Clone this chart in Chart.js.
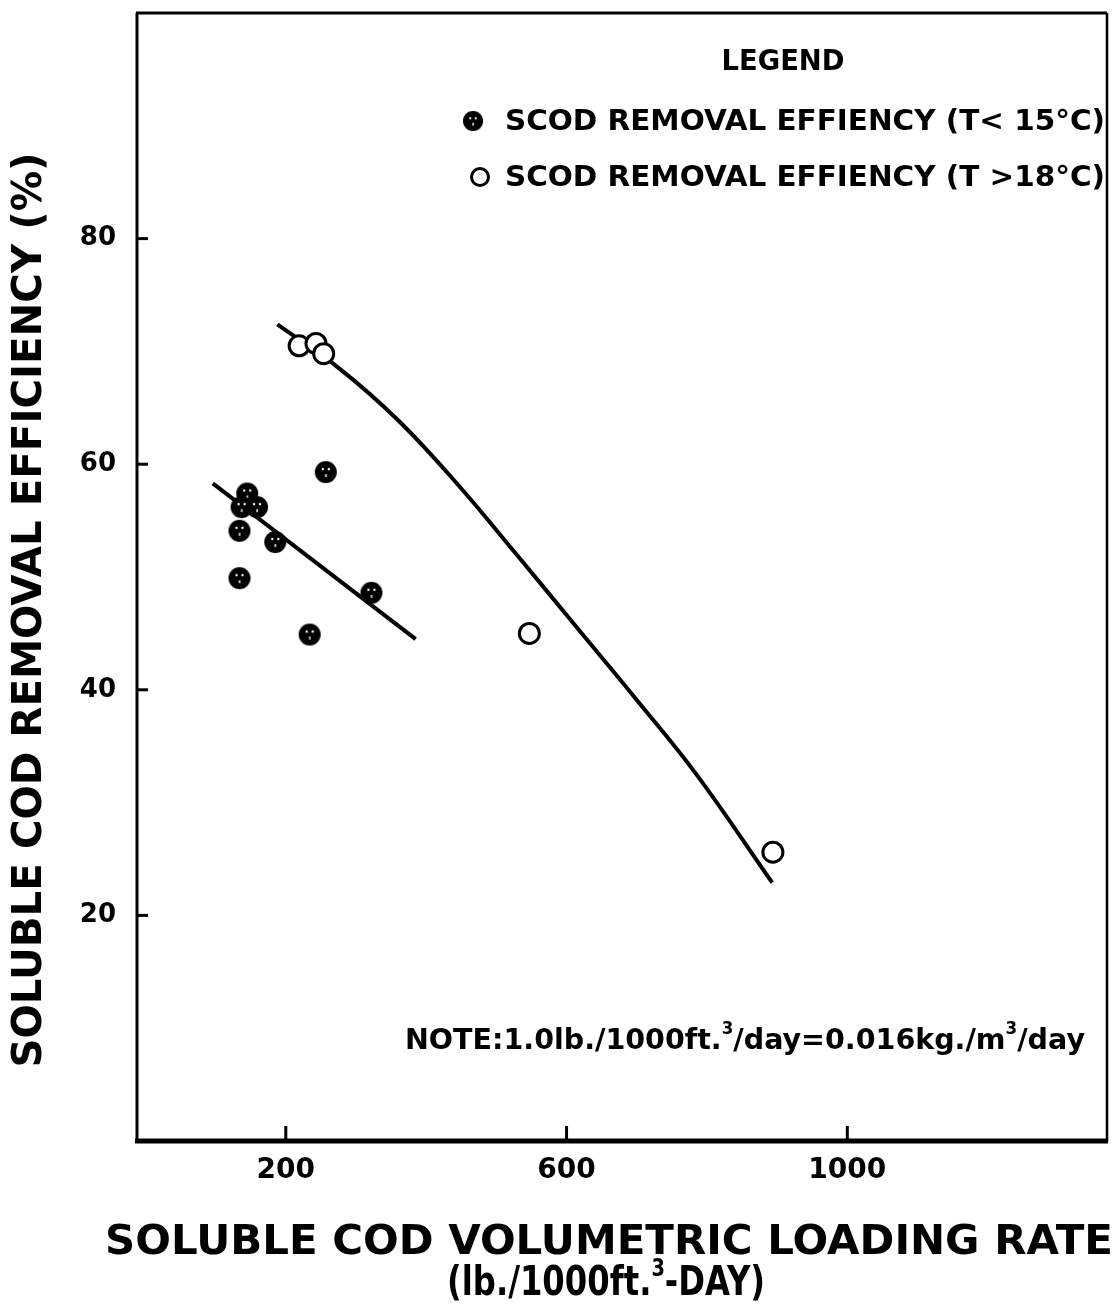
<!DOCTYPE html>
<html><head><meta charset="utf-8">
<script src="https://cdn.jsdelivr.net/npm/chart.js@4.4.1/dist/chart.umd.min.js"></script>
<style>html,body{margin:0;padding:0;background:#fff;}#wrap{width:1120px;height:1308px;}</style>
</head><body><div id="wrap"><canvas id="c" width="1120" height="1308"></canvas></div>
<script>
// ---- data ----
const coldX = [145, 137, 159, 134, 185, 134, 257, 322, 234];
const coldY = [57.4, 56.2, 56.2, 54.1, 53.1, 49.9, 59.3, 48.6, 44.9];
const warmX = [219, 243, 254, 547, 894];
const warmY = [70.5, 70.7, 69.8, 45.0, 25.6];
const coldFitX = [96, 385];
const coldFitY = [58.3, 44.5];
const warmFitX = [188, 276, 360, 445, 530, 615, 700, 785, 893];
const warmFitY = [72.4, 68.5, 63.9, 58.2, 51.9, 45.5, 39.1, 32.5, 22.9];
const xTicks = [200, 600, 1000];
const yTicks = [20, 40, 60, 80];
const legendTitle = 'LEGEND';
const legendCold = 'SCOD REMOVAL EFFIENCY (T< 15°C)';
const legendWarm = 'SCOD REMOVAL EFFIENCY (T >18°C)';
const yTitle = 'SOLUBLE COD REMOVAL EFFICIENCY (%)';
const xTitle1 = 'SOLUBLE COD VOLUMETRIC LOADING RATE';
const xTitle2 = [{t:'(lb./1000ft.'},{t:'3',sup:true},{t:'-DAY)'}];
const noteText = [{t:'NOTE:1.0lb./1000ft.'},{t:'3',sup:true},{t:'/day=0.016kg./m'},{t:'3',sup:true},{t:'/day'}];

const FONT = "'DejaVu Sans', 'Liberation Sans', sans-serif";

// filled marker with small white specks
const dot = document.createElement('canvas');
dot.width = 24; dot.height = 24;
(function(){
  const g = dot.getContext('2d');
  g.fillStyle = '#000';
  g.beginPath(); g.arc(12,12,11,0,Math.PI*2); g.fill();
  g.fillStyle = '#fff';
  g.beginPath(); g.arc(9,9,1.2,0,Math.PI*2); g.fill();
  g.beginPath(); g.arc(15,9,1.2,0,Math.PI*2); g.fill();
  g.fillRect(11.4,14,1.4,3);
})();

function toPts(xs, ys){ return xs.map((x,i)=>({x:x, y:ys[i]})); }

function fitText(ctx, text, x, y, width, size, align){
  ctx.font = 'bold ' + size + 'px ' + FONT;
  const w = ctx.measureText(text).width;
  const s = width / w;
  ctx.save();
  ctx.translate(x, y);
  ctx.scale(s, 1);
  ctx.textBaseline = 'middle';
  ctx.textAlign = align || 'left';
  ctx.fillText(text, 0, 0);
  ctx.restore();
}
function richText(ctx, segs, x, y, width, size){
  const supSize = Math.round(size*0.6);
  let total = 0;
  segs.forEach(s=>{ ctx.font = 'bold ' + (s.sup?supSize:size) + 'px ' + FONT; s.w = ctx.measureText(s.t).width; total += s.w; });
  const sc = width / total;
  ctx.save();
  ctx.translate(x, y);
  ctx.scale(sc, 1);
  ctx.textBaseline = 'middle';
  ctx.textAlign = 'left';
  let cx = 0;
  segs.forEach(s=>{
    ctx.font = 'bold ' + (s.sup?supSize:size) + 'px ' + FONT;
    ctx.fillText(s.t, cx, s.sup ? -size*0.38 : 0);
    cx += s.w;
  });
  ctx.restore();
}

const decor = {
  id: 'decor',
  afterDraw(chart){
    const ctx = chart.ctx;
    const a = chart.chartArea;
    const xs = chart.scales.x, ys = chart.scales.y;
    ctx.save();
    ctx.strokeStyle = '#000';
    ctx.fillStyle = '#000';
    ctx.lineCap = 'butt';
    // frame
    ctx.lineWidth = 3;
    ctx.beginPath(); ctx.moveTo(a.left, a.top); ctx.lineTo(a.left, a.bottom); ctx.stroke();
    ctx.beginPath(); ctx.moveTo(a.left-1, a.top); ctx.lineTo(a.right, a.top); ctx.stroke();
    ctx.lineWidth = 2.5;
    ctx.beginPath(); ctx.moveTo(a.right, a.top); ctx.lineTo(a.right, a.bottom); ctx.stroke();
    ctx.lineWidth = 5;
    ctx.beginPath(); ctx.moveTo(a.left-2, a.bottom); ctx.lineTo(a.right+1, a.bottom); ctx.stroke();
    // inward ticks
    ctx.lineWidth = 3;
    yTicks.forEach(v=>{ const p = ys.getPixelForValue(v); ctx.beginPath(); ctx.moveTo(a.left, p); ctx.lineTo(a.left+11, p); ctx.stroke(); });
    xTicks.forEach(v=>{ const p = xs.getPixelForValue(v); ctx.beginPath(); ctx.moveTo(p, a.bottom); ctx.lineTo(p, a.bottom-15); ctx.stroke(); });
    // legend
    fitText(ctx, legendTitle, 783, 62, 123, 29, 'center');
    ctx.drawImage(dot, 473-11, 121-11, 22, 22);
    ctx.lineWidth = 3;
    ctx.fillStyle = '#fff';
    ctx.beginPath(); ctx.arc(480, 177, 8.5, 0, Math.PI*2); ctx.fill(); ctx.stroke();
    ctx.fillStyle = '#000';
    fitText(ctx, legendCold, 505, 122, 600, 29, 'left');
    fitText(ctx, legendWarm, 505, 178, 600, 29, 'left');
    // note
    richText(ctx, noteText, 405, 1041, 680, 29);
    // y title
    ctx.save();
    ctx.translate(31, 610);
    ctx.rotate(-Math.PI/2);
    fitText(ctx, yTitle, 0, 0, 915, 40, 'center');
    ctx.restore();
    // x title
    fitText(ctx, xTitle1, 105, 1243, 1008, 41, 'left');
    richText(ctx, xTitle2, 447, 1285, 318, 40);
    ctx.restore();
  }
};

new Chart(document.getElementById('c'), {
  type: 'scatter',
  data: {
    datasets: [
      { label: 'cold fit', data: toPts(coldFitX, coldFitY), showLine: true, borderColor: '#000', borderWidth: 4, pointRadius: 0, order: 3 },
      { label: 'warm fit', data: toPts(warmFitX, warmFitY), showLine: true, borderColor: '#000', borderWidth: 4, pointRadius: 0, tension: 0.4, order: 3 },
      { label: legendCold, data: toPts(coldX, coldY), pointStyle: dot, pointRadius: 11, order: 1 },
      { label: legendWarm, data: toPts(warmX, warmY), pointStyle: 'circle', pointRadius: 10, backgroundColor: '#fff', borderColor: '#000', borderWidth: 3, order: 2 }
    ]
  },
  options: {
    responsive: false,
    animation: false,
    layout: { padding: { left: 0, right: -5, top: 12, bottom: 0 } },
    plugins: { legend: { display: false }, tooltip: { enabled: false } },
    scales: {
      x: {
        type: 'linear', min: -12, max: 1370,
        afterBuildTicks: s => { s.ticks = xTicks.map(v=>({value:v})); },
        afterFit: s => { s.height = 167; s.paddingLeft = 0; s.paddingRight = 0; },
        grid: { display: false, drawTicks: false },
        border: { display: false },
        ticks: { color: '#000', padding: 13, maxRotation: 0, callback: v => String(v), font: { family: FONT, weight: 'bold', size: 28 } }
      },
      y: {
        type: 'linear', min: 0, max: 100,
        afterBuildTicks: s => { s.ticks = yTicks.map(v=>({value:v})); },
        afterFit: s => { s.width = 137; s.paddingTop = 0; s.paddingBottom = 0; },
        grid: { display: false, drawTicks: false },
        border: { display: false },
        ticks: { color: '#000', padding: 21, callback: v => String(v), font: { family: FONT, weight: 'bold', size: 26 } }
      }
    }
  },
  plugins: [decor]
});
</script></body></html>
